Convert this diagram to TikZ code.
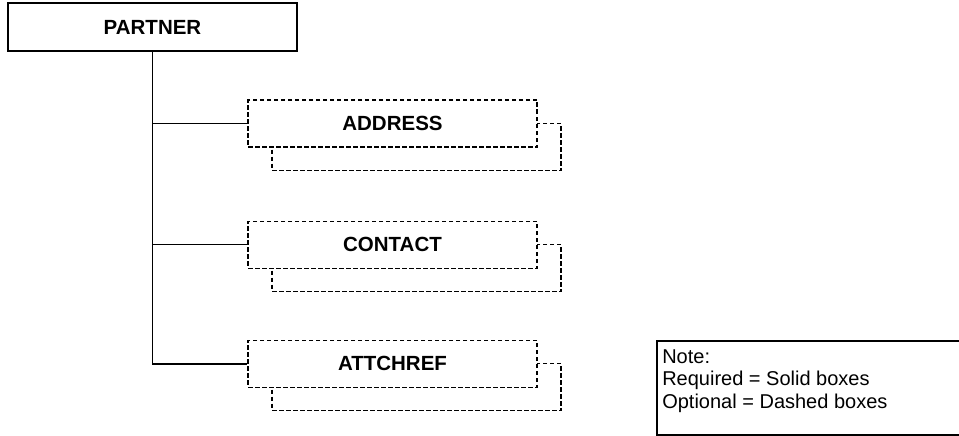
\documentclass[tikz,border=0pt]{standalone}
\usepackage{fontspec}
\setmainfont{Liberation Sans}
\usetikzlibrary{positioning}

\begin{document}
\begin{tikzpicture}[
            x = 1pt,
            y = -1pt,
            semithick
        ]

        \tikzstyle{reqbox}=[
            draw,
            line width = 1.1pt,
            fill = white,
            minimum width = 289pt,
            minimum height = 47pt,
            inner sep = 0pt,
            font = \fontsize{20.5}{24}\selectfont\bfseries
        ]
        \tikzstyle{optbox}=[reqbox, dash pattern = on 4.5pt off 2.5pt]
        \tikzstyle{notetext}=[
            anchor = base west,
            inner sep = 0pt,
            font = \fontsize{20}{23}\selectfont
        ]

        \fill[white] (0,0) rectangle (959,436);
        \useasboundingbox (0,0) rectangle (959,436);

        \node[reqbox, minimum height = 48pt] (partner) at (152.5,27) {PARTNER};

        \node[optbox] (addressbk) at (416.5,147) {};
        \node[optbox] (address) at (392.5,123.5) {ADDRESS};
        \node[optbox] (contactbk) [below = 73pt of addressbk] {};
        \node[optbox] (contact) [below = 73pt of address] {CONTACT};
        \node[optbox] (attchrefbk) [below = 71pt of contactbk] {};
        \node[optbox] (attchref) [below = 71pt of contact] {ATTCHREF};

        \draw[line width = 1.6pt] (partner.south) |- (attchref.west);
        \draw[line width = 1.1pt] (partner.south |- address.west) -- (address.west);
        \draw[line width = 1.1pt] (partner.south |- contact.west) -- (contact.west);

        \node[draw, line width = 1.8pt, anchor = north west, inner sep = 0pt,
              minimum width = 330pt, minimum height = 94pt] (note) at (656,340) {};
        \node[notetext] (note1) at ([shift={(6,23)}]note.north west) {Note:};
        \node[notetext] (note2) at ([shift={(0,22.7)}]note1.base west) {Required = Solid boxes};
        \node[notetext] (note3) at ([shift={(0,22.7)}]note2.base west) {Optional = Dashed boxes};
    \end{tikzpicture}
\end{document}
